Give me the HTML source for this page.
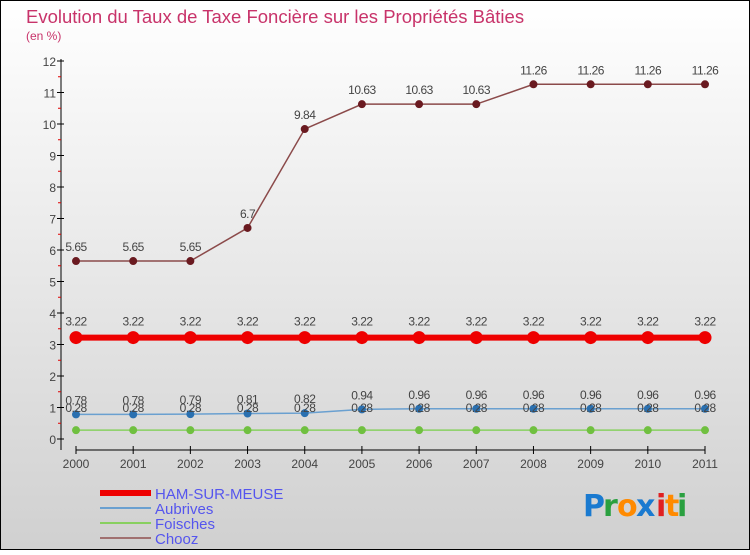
<!DOCTYPE html>
<html><head><meta charset="utf-8"><style>
html,body{margin:0;padding:0}
body{width:750px;height:550px;overflow:hidden;font-family:"Liberation Sans",sans-serif}
</style></head><body>
<svg id="chart" width="750" height="550" xmlns="http://www.w3.org/2000/svg">
<defs><linearGradient id="bg" x1="0" y1="0" x2="0" y2="1"><stop offset="0" stop-color="#ffffff"/><stop offset="1" stop-color="#d0d0d0"/></linearGradient></defs>
<rect x="0.5" y="0.5" width="749" height="549" fill="url(#bg)" stroke="#000"/>
<text x="26" y="23" font-size="18.5" fill="#c8336a">Evolution du Taux de Taxe Foncière sur les Propriétés Bâties</text>
<text x="26" y="40" font-size="12" fill="#c8336a">(en %)</text>
<g id="axes"></g><g id="series"></g><g id="legend"></g>
<g font-size="30" font-family="'DejaVu Sans',sans-serif" font-weight="bold">
<text x="583" y="516" fill="#1a7ad0">P</text><text x="603" y="516" fill="#2aa040">r</text><text x="617" y="516" fill="#ff8a00">o</text><text x="636" y="516" fill="#1a7ad0">x</text><text x="656" y="516" fill="#e02020">i</text><text x="665" y="516" fill="#ff8a00">t</text><text x="677" y="516" fill="#2aa040">i</text>
</g>
</svg>
<script>
const years=[2000,2001,2002,2003,2004,2005,2006,2007,2008,2009,2010,2011];
const ham=[3.22,3.22,3.22,3.22,3.22,3.22,3.22,3.22,3.22,3.22,3.22,3.22];
const aubrives=[0.78,0.78,0.79,0.81,0.82,0.94,0.96,0.96,0.96,0.96,0.96,0.96];
const foisches=[0.28,0.28,0.28,0.28,0.28,0.28,0.28,0.28,0.28,0.28,0.28,0.28];
const chooz=[5.65,5.65,5.65,6.7,9.84,10.63,10.63,10.63,11.26,11.26,11.26,11.26];
const yTicks=[0,1,2,3,4,5,6,7,8,9,10,11,12];
const NS="http://www.w3.org/2000/svg";
const x=i=>76+i*(705-76)/11;
const y=v=>439-v*31.5;
function mk(t,a,p){const e=document.createElementNS(NS,t);for(const k in a)e.setAttribute(k,a[k]);p.appendChild(e);return e;}
const ax=document.getElementById('axes');
let e=mk('line',{x1:61,y1:59,x2:61,y2:450,stroke:'#000'},ax);


e=mk('line',{x1:76,y1:450,x2:705,y2:450,stroke:'#000'},ax);


yTicks.forEach(t=>{
 mk('line',{x1:57,y1:y(t),x2:64,y2:y(t),stroke:'#000'},ax);
 if(t<12)mk('line',{x1:58,y1:y(t+0.5),x2:61,y2:y(t+0.5),stroke:'#e00000'},ax);
 const l=mk('text',{x:56,y:y(t)+5,'font-size':12,fill:'#444','text-anchor':'end'},ax);l.textContent=t;
 
 
});
years.forEach((yr,i)=>{
 mk('line',{x1:x(i),y1:446,x2:x(i),y2:454,stroke:'#000'},ax);
 const l=mk('text',{x:x(i),y:468,'font-size':12,fill:'#444','text-anchor':'middle'},ax);l.textContent=yr;
 
 
});
const sg=document.getElementById('series');
function series(name,data,col,dot,w,r,lblDy){
 const g=mk('g',{},sg);
 
 
 mk('polyline',{points:data.map((v,i)=>x(i)+','+y(v)).join(' '),fill:'none',stroke:col,'stroke-width':w},g);
 data.forEach((v,i)=>{
  const c=mk('circle',{cx:x(i),cy:y(v),r:r,fill:dot},g);
  
  
  const t=mk('text',{x:x(i),y:y(v)+lblDy,'font-size':12,fill:'#444','text-anchor':'middle','letter-spacing':'-0.5'},g);t.textContent=v;
  
  
 });
}
series('chooz',chooz,'#8b4a4a','#6a1a20',1.5,4,-10);
series('aubrives',aubrives,'#6aa0d0','#2a70b0',1.5,4,-10);
series('foisches',foisches,'#88d060','#70c040',1.5,4,-18);
series('ham-sur-meuse',ham,'#ee0000','#ee0000',6,6.5,-12);
const lg=document.getElementById('legend');
[['HAM-SUR-MEUSE','#ee0000',6],['Aubrives','#6aa0d0',2],['Foisches','#88d060',2],['Chooz','#a07070',2]].forEach((d,i)=>{
 const g=mk('g',{},lg);
 
 
 mk('line',{x1:100,y1:493+i*15,x2:151,y2:493+i*15,stroke:d[1],'stroke-width':d[2]},g);
 const t=mk('text',{x:155,y:499+i*15,'font-size':15,fill:'#5555ee'},g);t.textContent=d[0];
});
</script>
</body></html>
